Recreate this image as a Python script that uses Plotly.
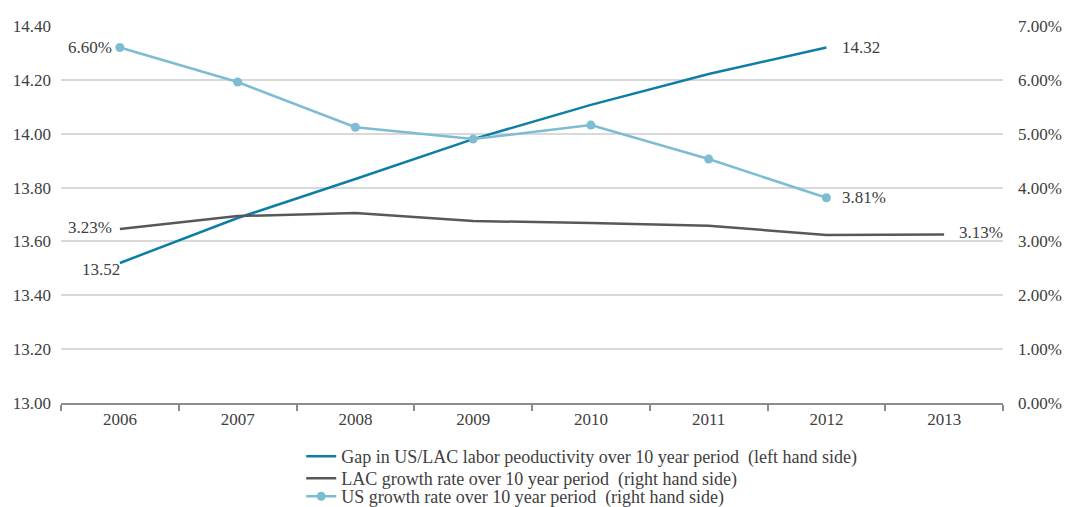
import plotly.graph_objects as go

years = ["2006", "2007", "2008", "2009", "2010", "2011", "2012", "2013"]
gap = [13.52, 13.687, 13.832, 13.98, 14.107, 14.222, 14.32, None]
lac = [3.23, 3.47, 3.53, 3.38, 3.34, 3.29, 3.12, 3.13]
us = [6.60, 5.96, 5.12, 4.90, 5.16, 4.53, 3.81, None]

left_ticks = [13.0, 13.2, 13.4, 13.6, 13.8, 14.0, 14.2, 14.4]
right_ticks = [0, 1, 2, 3, 4, 5, 6, 7]

names = [
    "Gap in US/LAC labor peoductivity over 10 year period  (left hand side)",
    "LAC growth rate over 10 year period  (right hand side)",
    "US growth rate over 10 year period  (right hand side)",
]

C_GAP = "#0E7EA6"
C_LAC = "#58585A"
C_US = "#7DBCD3"
FONT = "Liberation Serif"
TXT = "#404040"

fig = go.Figure()
fig.add_trace(go.Scatter(x=years, y=gap, name=names[0], mode="lines",
                         line=dict(color=C_GAP, width=2.5), yaxis="y",
                         legend="legend"))
fig.add_trace(go.Scatter(x=years, y=lac, name=names[1], mode="lines",
                         line=dict(color=C_LAC, width=2.5), yaxis="y2",
                         legend="legend2"))
fig.add_trace(go.Scatter(x=years, y=us, name=names[2], mode="lines+markers",
                         line=dict(color=C_US, width=2.5),
                         marker=dict(size=9, color=C_US), yaxis="y2",
                         legend="legend3"))

ann = []
def add(i, y, text, yref, xanchor, xshift=0, yshift=0):
    ann.append(dict(x=i, y=y, xref="x", yref=yref, text=text, showarrow=False,
                    xanchor=xanchor, yanchor="middle", xshift=xshift, yshift=yshift,
                    font=dict(family=FONT, size=17, color=TXT)))

add(0, us[0], f"{us[0]:.2f}%", "y2", "right", xshift=-6)
add(0, lac[0], f"{lac[0]:.2f}%", "y2", "right", xshift=-6, yshift=2)
add(0, gap[0], f"{gap[0]:.2f}", "y", "right", xshift=2, yshift=-7)
add(6, gap[6], f"{gap[6]:.2f}", "y", "left", xshift=14)
add(6, us[6], f"{us[6]:.2f}%", "y2", "left", xshift=14)
add(7, lac[7], f"{lac[7]:.2f}%", "y2", "left", xshift=13, yshift=2)

def leg(y):
    return dict(x=0.255, y=y, xanchor="left", yanchor="top",
                font=dict(family=FONT, size=18, color=TXT),
                itemwidth=30, bgcolor="rgba(0,0,0,0)")

fig.update_layout(
    width=1066, height=507,
    margin=dict(l=61, r=63, t=26, b=104, autoexpand=False),
    paper_bgcolor="white", plot_bgcolor="white",
    font=dict(family=FONT, size=17, color=TXT),
    showlegend=True,
    legend=leg(-0.0928),
    legend2=leg(-0.151),
    legend3=leg(-0.199),
    xaxis=dict(type="category", categoryorder="array", categoryarray=years,
               range=[-0.5, 7.5], showgrid=False, showline=True, automargin=False,
               linecolor="#8C8C8C", linewidth=2, ticks="outside",
               tickson="boundaries", ticklen=6, tickcolor="#8C8C8C", tickwidth=2,
               tickfont=dict(family=FONT, size=17, color=TXT)),
    yaxis=dict(range=[13.0, 14.4], tickvals=left_ticks,
               ticktext=[f"{v:.2f}" for v in left_ticks], automargin=False,
               showgrid=True, gridcolor="#D9D9D9", gridwidth=1.5,
               zeroline=False, showline=False, ticks="", ticklabelstandoff=9,
               tickfont=dict(family=FONT, size=17, color=TXT)),
    yaxis2=dict(range=[0, 7], tickvals=right_ticks, automargin=False,
                ticktext=[f"{v:.2f}%" for v in right_ticks],
                overlaying="y", side="right", showgrid=False, zeroline=False,
                showline=False, ticks="", ticklabelstandoff=14,
                tickfont=dict(family=FONT, size=17, color=TXT)),
    annotations=ann,
)

fig.write_html("out.html", config={"displayModeBar": False},
               post_script="document.body.style.margin='0';")
